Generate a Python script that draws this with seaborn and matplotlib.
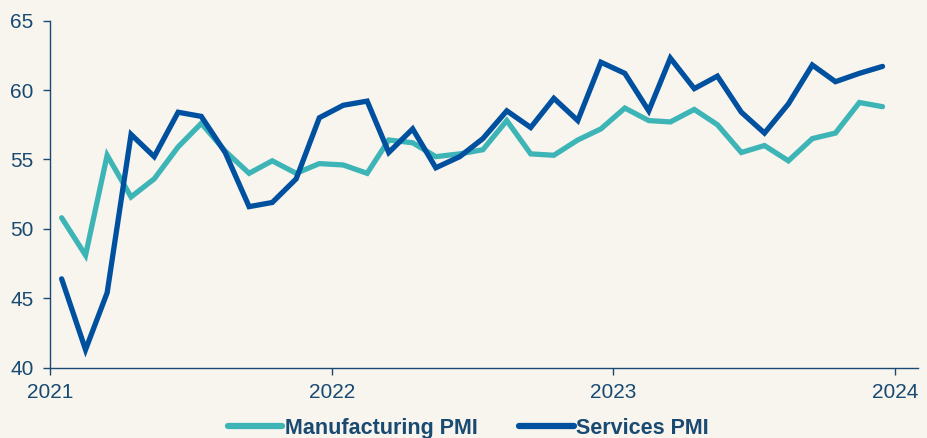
import matplotlib
matplotlib.use("Agg")
import matplotlib.pyplot as plt
import seaborn as sns
import pandas as pd
from matplotlib.lines import Line2D

months = pd.date_range("2021-01-01", periods=36, freq="MS") + pd.Timedelta(days=15)

manufacturing = [50.8, 48.1, 55.3, 52.3, 53.6, 55.9, 57.6, 55.6, 54.0, 54.9, 54.0, 54.7,
                 54.6, 54.0, 56.4, 56.2, 55.2, 55.4, 55.7, 57.8, 55.4, 55.3, 56.4, 57.2,
                 58.7, 57.8, 57.7, 58.6, 57.5, 55.5, 56.0, 54.9, 56.5, 56.9, 59.1, 58.8]
services = [46.4, 41.3, 45.4, 56.8, 55.2, 58.4, 58.1, 55.5, 51.6, 51.9, 53.6, 58.0,
            58.9, 59.2, 55.5, 57.2, 54.4, 55.2, 56.5, 58.5, 57.3, 59.4, 57.8, 62.0,
            61.2, 58.5, 62.3, 60.1, 61.0, 58.4, 56.9, 59.0, 61.8, 60.6, 61.2, 61.7]
series_names = ["Manufacturing PMI", "Services PMI"]
year_ticks = ["2021", "2022", "2023", "2024"]
y_ticks = [40, 45, 50, 55, 60, 65]

df = pd.DataFrame({
    "date": list(months) * 2,
    "value": manufacturing + services,
    "series": [series_names[0]] * 36 + [series_names[1]] * 36,
})

BG = "#F8F4EE"
TXT = "#184A72"
palette = {series_names[0]: "#3DB5B7", series_names[1]: "#0050A0"}

sns.set_theme(style="white")
plt.rcParams["font.family"] = ["Liberation Sans", "DejaVu Sans"]

fig = plt.figure(figsize=(9.27, 4.38), dpi=100, facecolor=BG)
ax = fig.add_axes([0.054, 0.1605, 0.9363, 0.7925])
ax.set_facecolor(BG)

sns.lineplot(data=df, x="date", y="value", hue="series", palette=palette,
             linewidth=3.8, ax=ax, legend=False)
for ln in ax.get_lines():
    ln.set_solid_capstyle("round")
    ln.set_solid_joinstyle("miter")

ax.set_ylim(40, 65)
ax.set_yticks(y_ticks)
ax.set_xlim(pd.Timestamp("2021-01-01"), pd.Timestamp("2024-01-31"))
ax.set_xticks([pd.Timestamp(f"{y}-01-01") for y in year_ticks])
ax.set_xticklabels(year_ticks)
ax.set_xlabel("")
ax.set_ylabel("")

for s in ["top", "right"]:
    ax.spines[s].set_visible(False)
for s in ["left", "bottom"]:
    ax.spines[s].set_color(TXT)
    ax.spines[s].set_linewidth(1.0)
ax.tick_params(axis="both", which="major", direction="out", length=5, width=1.0,
               color=TXT, labelcolor=TXT, labelsize=15, left=True, bottom=True)
ax.tick_params(axis="x", pad=6)
ax.tick_params(axis="y", pad=7)

handles = [Line2D([0], [0], color=palette[n], linewidth=4.5, solid_capstyle="round")
           for n in series_names]
leg = fig.legend(handles, series_names, loc="center", bbox_to_anchor=(0.505, 0.022),
                 ncol=2, frameon=False, handlelength=2.55, handletextpad=0.12,
                 columnspacing=1.9, prop={"weight": "bold", "size": 15.5})
for t in leg.get_texts():
    t.set_color(TXT)

fig.savefig("out.png", dpi=100, facecolor=BG)
